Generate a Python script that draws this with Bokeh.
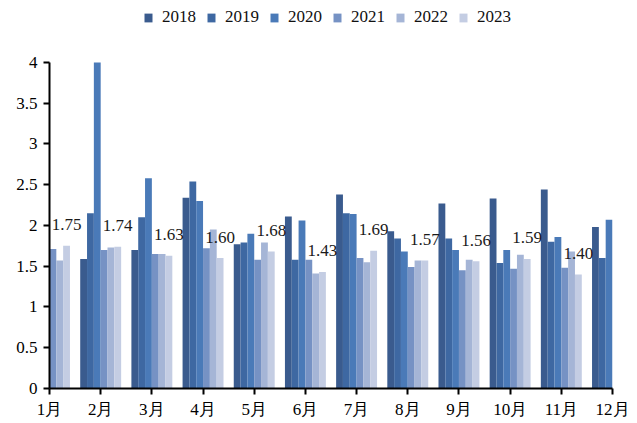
import math
from bokeh.plotting import figure
from bokeh.models import (Range1d, FixedTicker, NumeralTickFormatter, Legend, LegendItem,
                          ColumnDataSource)
from bokeh.core.properties import value
from bokeh.embed import file_html
from bokeh.resources import INLINE

nan = float("nan")
months = list(range(1, 13))
month_labels = [f"{m}月" for m in months]
years = ["2018", "2019", "2020", "2021", "2022", "2023"]
y2018 = [nan, 1.59, 1.70, 2.34, 1.77, 2.11, 2.38, 1.93, 2.27, 2.33, 2.44, 1.98]
y2019 = [nan, 2.15, 2.10, 2.54, 1.79, 1.58, 2.15, 1.84, 1.84, 1.54, 1.80, 1.60]
y2020 = [nan, 4.00, 2.58, 2.30, 1.90, 2.06, 2.14, 1.68, 1.70, 1.70, 1.86, 2.07]
y2021 = [1.71, 1.70, 1.65, 1.72, 1.58, 1.58, 1.60, 1.49, 1.45, 1.47, 1.48, 1.53]
y2022 = [1.57, 1.73, 1.65, 1.95, 1.79, 1.41, 1.55, 1.57, 1.58, 1.64, 1.68, nan]
y2023 = [1.75, 1.74, 1.63, 1.60, 1.68, 1.43, 1.69, 1.57, 1.56, 1.59, 1.40, nan]
series = [y2018, y2019, y2020, y2021, y2022, y2023]
colors = ["#3a5b8e", "#3e68a2", "#4a7ab8", "#7692c4", "#a5b5d6", "#c4cde3"]
y_ticks = [0, 0.5, 1, 1.5, 2, 2.5, 3, 3.5, 4]

FONT = "Liberation Serif"
FS = "17px"
bar_w = 0.1333
offsets = [(-2.5 + i) * bar_w for i in range(6)]

# frame spans the full height above the x axis; the y axis line is bounded to 0..4
p = figure(width=637, height=423, output_backend="svg", toolbar_location=None,
           x_range=Range1d(1, 12), y_range=Range1d(0, 4.76),
           min_border_left=49, min_border_right=25, min_border_top=0, min_border_bottom=35)
p.outline_line_color = None
p.xgrid.visible = False
p.ygrid.visible = False
p.background_fill_color = "white"
p.border_fill_color = "white"

items = []
for i, (yr, vals) in enumerate(zip(years, series)):
    src = ColumnDataSource(dict(x=[m + offsets[i] for m in months], top=vals))
    r = p.vbar(x="x", top="top", width=bar_w, bottom=0, source=src,
               fill_color=colors[i], line_color=None)
    items.append(LegendItem(label=yr, renderers=[r]))

# data labels (2023 values)
lab_x = [m + offsets[5] for m, v in zip(months, y2023) if not math.isnan(v)]
lab_y = [v for v in y2023 if not math.isnan(v)]
lab_t = [f"{v:.2f}" for v in lab_y]
p.text(x=lab_x, y=lab_y, text=lab_t, text_font=value(FONT), text_font_size=FS,
       text_color="#1a1a1a", text_align="center", text_baseline="middle", y_offset=-21)

legend = Legend(items=items, orientation="horizontal", location=(94, 361),
                glyph_width=10, glyph_height=11, label_standoff=9, spacing=10,
                label_text_font=FONT, label_text_font_size=FS, label_text_color="#111111",
                border_line_color=None, background_fill_alpha=0, padding=0, margin=0)
p.add_layout(legend, "center")

for ax in (p.xaxis[0], p.yaxis[0]):
    ax.axis_line_color = "black"
    ax.axis_line_width = 2
    ax.major_tick_line_color = "black"
    ax.major_tick_line_width = 2
    ax.major_tick_out = 6
    ax.major_tick_in = 0
    ax.minor_tick_line_color = None
    ax.major_label_text_font = FONT
    ax.major_label_text_font_size = FS
    ax.major_label_text_color = "black"

p.xaxis.ticker = FixedTicker(ticks=months)
p.xaxis.major_label_overrides = {m: lab for m, lab in zip(months, month_labels)}
p.xaxis.major_label_standoff = 5
p.yaxis.ticker = FixedTicker(ticks=y_ticks)
p.yaxis.bounds = (0, 4)
p.yaxis.formatter = NumeralTickFormatter(format="0.[0]")
p.yaxis.major_label_standoff = 6

open("out.html", "w").write(file_html(p, INLINE))
